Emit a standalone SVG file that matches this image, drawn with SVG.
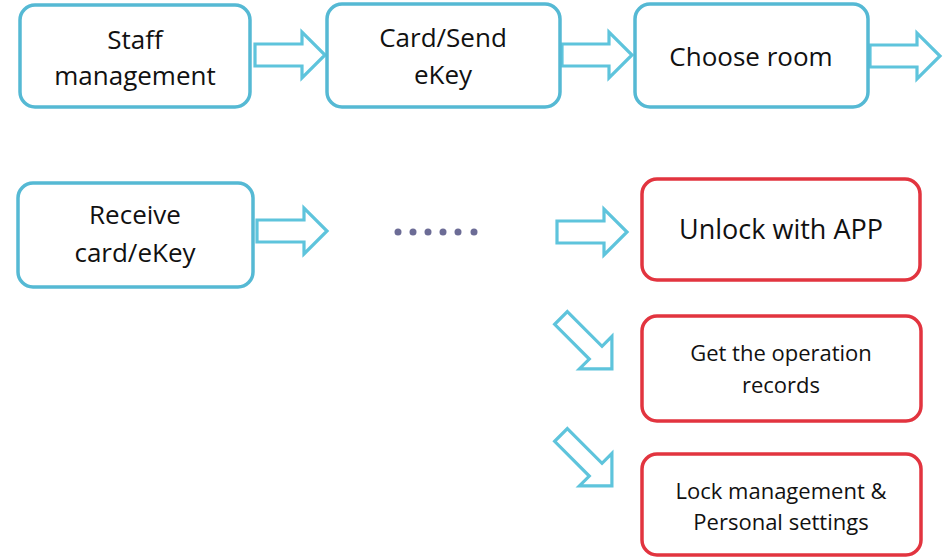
<svg xmlns="http://www.w3.org/2000/svg" width="949" height="558" viewBox="0 0 949 558">
<defs>
<style>
.bb{fill:#fff;stroke:#55b9d4;stroke-width:3.5}
.rb{fill:#fff;stroke:#e2343f;stroke-width:3.5}
.ar{fill:#fff;stroke:#5ec4dc;stroke-width:3.2;stroke-linejoin:miter}
.t{font-family:"Open Sans","Liberation Sans",sans-serif;fill:#111;text-anchor:middle}
.l{font-size:26px}
.s{font-size:22px}
.dot{fill:#6c6c96}
</style>
<path id="arr" d="M0,-11 H47 V-23 L70,0 L47,23 V11 H0 Z"/>
<path id="darr" d="M0,-9 H49 V-23 L72,0 L49,23 V9 H0 Z"/>
</defs>
<rect width="949" height="558" fill="#fff"/>
<g id="connectors">
<use href="#arr" class="ar" transform="translate(255,55)"/>
<use href="#arr" class="ar" transform="translate(562,55)"/>
<use href="#arr" class="ar" transform="translate(870,56)"/>
<use href="#arr" class="ar" transform="translate(257,231)"/>
<use href="#arr" class="ar" transform="translate(557,232)"/>
<use href="#darr" class="ar" transform="translate(561,318) rotate(45)"/>
<use href="#darr" class="ar" transform="translate(561,435) rotate(45)"/>
<g id="dots">
<circle class="dot" cx="398" cy="232" r="3.5"/>
<circle class="dot" cx="413" cy="232" r="3.5"/>
<circle class="dot" cx="428" cy="232" r="3.5"/>
<circle class="dot" cx="443" cy="232" r="3.5"/>
<circle class="dot" cx="458" cy="232" r="3.5"/>
<circle class="dot" cx="474" cy="232" r="3.5"/>
</g>
</g>
<g id="staff">
<rect class="bb" x="20" y="5" width="230" height="102" rx="15"/>
<text class="t l" x="135" y="49">Staff</text>
<text class="t l" x="135" y="85">management</text>
</g>
<g id="card">
<rect class="bb" x="327" y="4" width="233" height="103" rx="15"/>
<text class="t l" x="443" y="47">Card/Send</text>
<text class="t l" x="443" y="84">eKey</text>
</g>
<g id="choose">
<rect class="bb" x="635" y="4" width="233" height="103" rx="15"/>
<text class="t l" x="751" y="66">Choose room</text>
</g>
<g id="receive">
<rect class="bb" x="18" y="183" width="235" height="104" rx="15"/>
<text class="t l" x="135" y="224">Receive</text>
<text class="t l" x="135" y="262">card/eKey</text>
</g>
<g id="unlock">
<rect class="rb" x="642" y="179" width="278" height="101" rx="15"/>
<text class="t" style="font-size:27px" x="781" y="239">Unlock with APP</text>
</g>
<g id="records">
<rect class="rb" x="642" y="316" width="279" height="105" rx="15"/>
<text class="t s" x="781" y="361">Get the operation</text>
<text class="t s" x="781" y="393">records</text>
</g>
<g id="lockmgmt">
<rect class="rb" x="642" y="454" width="279" height="101" rx="15"/>
<text class="t s" x="781" y="499">Lock management &amp;</text>
<text class="t s" x="781" y="530">Personal settings</text>
</g>
</svg>
